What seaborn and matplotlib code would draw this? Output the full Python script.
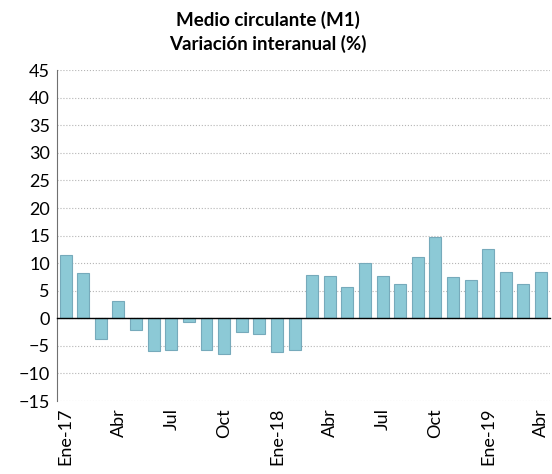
import pandas as pd
import numpy as np
import matplotlib.pyplot as plt
import seaborn as sns

# --- Data ---
months = ['Ene-17', 'Feb-17', 'Mar-17', 'Abr-17', 'May-17', 'Jun-17', 'Jul-17', 'Ago-17',
          'Sep-17', 'Oct-17', 'Nov-17', 'Dic-17', 'Ene-18', 'Feb-18', 'Mar-18', 'Abr-18',
          'May-18', 'Jun-18', 'Jul-18', 'Ago-18', 'Sep-18', 'Oct-18', 'Nov-18', 'Dic-18',
          'Ene-19', 'Feb-19', 'Mar-19', 'Abr-19']
m1_yoy = [11.5, 8.2, -3.8, 3.2, -2.1, -5.9, -5.8, -0.6,
          -5.8, -6.4, -2.4, -2.9, -6.2, -5.8, 7.8, 7.6,
          5.7, 10.0, 7.7, 6.3, 11.2, 14.8, 7.5, 7.0,
          12.6, 8.4, 6.2, 8.4]
tick_labels = ['Ene-17', 'Abr', 'Jul', 'Oct', 'Ene-18', 'Abr', 'Jul', 'Oct', 'Ene-19', 'Abr']

df = pd.DataFrame({'mes': months, 'variacion': m1_yoy})

BAR_COLOR = '#8CC9D6'
BAR_EDGE = '#76AABB'

sns.set_style('white')
plt.rcParams['font.family'] = ['Lato', 'DejaVu Sans']
plt.rcParams['text.color'] = 'black'
plt.rcParams['xtick.color'] = 'black'
plt.rcParams['ytick.color'] = 'black'

fig = plt.figure(figsize=(5.52, 4.74), dpi=100)
ax = fig.add_axes([0.103, 0.154, 0.893, 0.698])

sns.barplot(data=df, x='mes', y='variacion', order=months, color=BAR_COLOR,
            edgecolor=BAR_EDGE, linewidth=0.8, width=0.68, saturation=1, ax=ax)

ax.set_ylim(-15, 45)
ax.set_xlim(-0.5, len(months) - 0.5)
ax.set_yticks(np.arange(-15, 50, 5))
ax.tick_params(axis='y', labelsize=13, length=3, color='#707070', labelcolor='black', pad=2)
ax.yaxis.grid(True, linestyle=':', color='#B5B5B5', linewidth=0.8)
ax.set_axisbelow(True)
ax.set_xlabel('')
ax.set_ylabel('')

# x axis line sits on zero, ticks between months
for s in ['top', 'right']:
    ax.spines[s].set_visible(False)
ax.spines['left'].set_color('#707070')
ax.spines['left'].set_linestyle((0, (2, 1)))
ax.spines['left'].set_linewidth(0.8)
ax.spines['bottom'].set_position(('data', 0))
ax.spines['bottom'].set_color('black')
ax.spines['bottom'].set_linewidth(1.0)
ax.set_xticks(np.arange(-0.5, len(months), 1))
ax.set_xticklabels([])
ax.tick_params(axis='x', length=5, width=1, color='black', direction='out')

# month labels at the bottom of the plot area
sec = ax.secondary_xaxis(0)
sec.set_xticks(np.arange(0, len(months), 3))
sec.set_xticklabels(tick_labels, rotation=90, fontsize=13, color='black')
sec.tick_params(axis='x', length=0, pad=5)
sec.spines['bottom'].set_visible(False)

fig.text(0.486, 0.958, 'Medio circulante (M1)', ha='center', va='center',
         fontsize=13.5, fontweight='bold')
fig.text(0.486, 0.908, 'Variación interanual (%)', ha='center', va='center',
         fontsize=13.5, fontweight='bold')

plt.savefig('out.png', dpi=100)
